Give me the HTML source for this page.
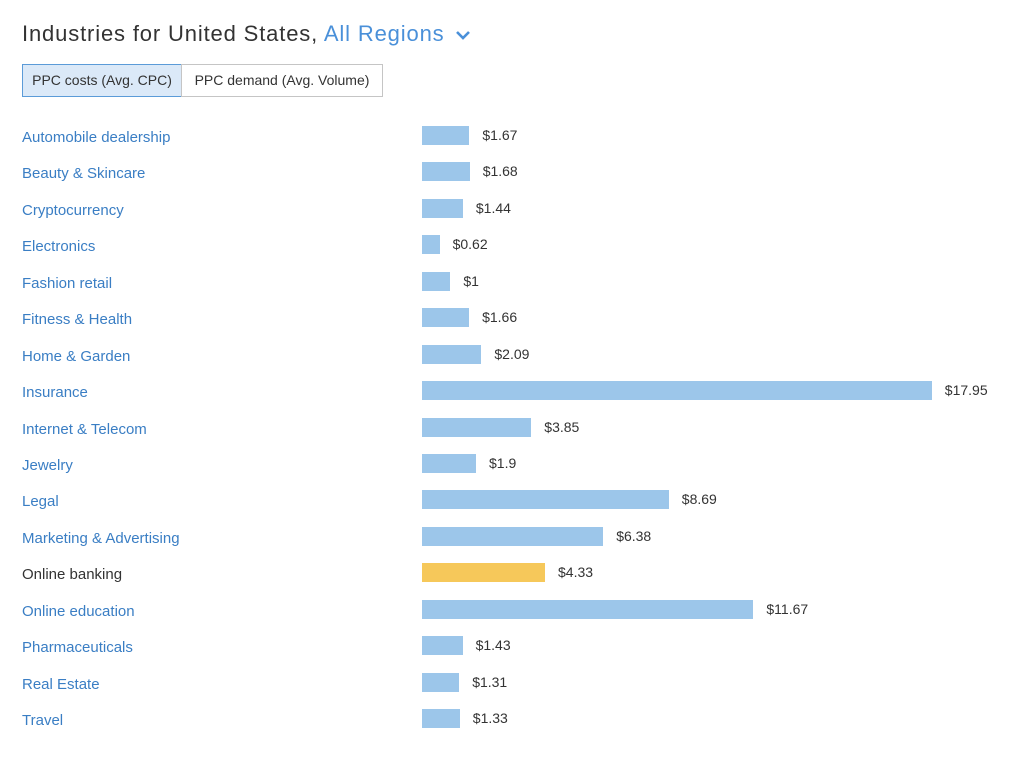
<!DOCTYPE html>
<html><head><style>
body{margin:0;width:1024px;height:783px;background:#fff;font-family:"Liberation Sans",sans-serif;position:relative;overflow:hidden}
.t{position:absolute;left:22px;top:21px;font-size:22px;color:#333;white-space:nowrap;letter-spacing:0.85px}
.t span{color:#4a90d9}
.btn{position:absolute;top:64px;line-height:30px;font-size:14px;color:#333;text-align:center;border:1px solid #c5c5c5;box-sizing:border-box;height:33px}
.r{position:absolute;left:0;width:1024px;height:20px}
.l{position:absolute;left:22px;top:2px;font-size:15px;color:#3a7ec4;line-height:20px;white-space:nowrap}
.b{position:absolute;left:422px;top:0;height:19px;background:#9cc6ea}
.v{position:absolute;top:0;font-size:14px;color:#333;line-height:19px}
</style></head><body>
<div class="t">Industries for United States, <span>All Regions</span>
<svg width="18" height="12" style="margin-left:3px" viewBox="0 0 18 12"><path d="M3 3 L9 9 L15 3" stroke="#4a90d9" stroke-width="2.6" fill="none"/></svg></div>
<div class="btn" style="left:22px;width:160px;background:#dbe9f8;border-color:#5b9bd8">PPC costs (Avg. CPC)</div>
<div class="btn" style="left:181px;width:202px;background:#fff">PPC demand (Avg. Volume)</div>
<div id="c"></div>
<script>
var d=[["Automobile dealership",1.67],["Beauty & Skincare",1.68],["Cryptocurrency",1.44],["Electronics",0.62],["Fashion retail",1],["Fitness & Health",1.66],["Home & Garden",2.09],["Insurance",17.95],["Internet & Telecom",3.85],["Jewelry",1.9],["Legal",8.69],["Marketing & Advertising",6.38],["Online banking",4.33],["Online education",11.67],["Pharmaceuticals",1.43],["Real Estate",1.31],["Travel",1.33]];
var h="";
d.forEach(function(x,i){var y=126+i*36.44;var w=x[1]*28.4;var hl=x[0]=="Online banking";
h+='<div class="r" style="top:'+y.toFixed(1)+'px"><div class="l" style="'+(hl?'color:#333':'')+'">'+x[0].replace("&","&amp;")+'</div><div class="b" style="width:'+w.toFixed(1)+'px;'+(hl?'background:#f6c85a':'')+'"></div><div class="v" style="left:'+(422+w+13).toFixed(1)+'px;top:0px">$'+x[1]+'</div></div>';});
document.getElementById("c").innerHTML=h;
</script>
</body></html>
